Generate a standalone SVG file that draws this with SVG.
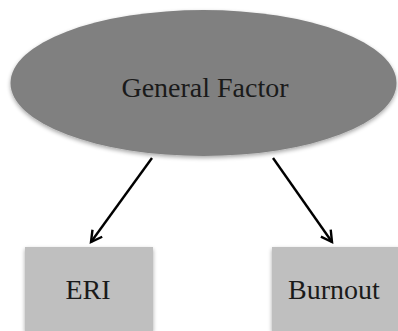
<svg xmlns="http://www.w3.org/2000/svg" width="398" height="331" viewBox="0 0 398 331">
  <style>
    .label { font-family: "Liberation Serif", "Times New Roman", serif; font-size: 28px; fill: #1a1a1a; text-anchor: middle; }
    .box { fill: #bfbfbf; }
    .edge { stroke: #000; stroke-width: 2.4; fill: none; marker-end: url(#arrow); }
  </style>
  <defs>
    <marker id="arrow" viewBox="0 0 12 12" refX="10" refY="6" markerWidth="6" markerHeight="6" markerUnits="strokeWidth" orient="auto">
      <path d="M1,1 L10,6 L1,11" fill="none" stroke="#000" stroke-width="2"/>
    </marker>
    <filter id="shadow" x="-10%" y="-10%" width="120%" height="130%">
      <feGaussianBlur in="SourceAlpha" stdDeviation="2"/>
      <feOffset dx="0" dy="2" result="b"/>
      <feComponentTransfer><feFuncA type="linear" slope="0.35"/></feComponentTransfer>
      <feMerge><feMergeNode/><feMergeNode in="SourceGraphic"/></feMerge>
    </filter>
  </defs>
  <rect width="398" height="331" fill="#fff"/>
  <g id="connectors">
    <line class="edge" x1="152" y1="158" x2="91" y2="242"/>
    <line class="edge" x1="273" y1="158" x2="332" y2="242"/>
  </g>
  <g id="general-factor">
    <ellipse cx="203.5" cy="83" rx="193" ry="73" fill="#808080" filter="url(#shadow)"/>
    <text class="label" x="205" y="97">General Factor</text>
  </g>
  <g id="eri">
    <rect class="box" x="25" y="247" width="128" height="84" filter="url(#shadow)"/>
    <text class="label" x="88" y="299">ERI</text>
  </g>
  <g id="burnout">
    <rect class="box" x="272" y="247" width="130" height="84" filter="url(#shadow)"/>
    <text class="label" x="334" y="299">Burnout</text>
  </g>
</svg>
